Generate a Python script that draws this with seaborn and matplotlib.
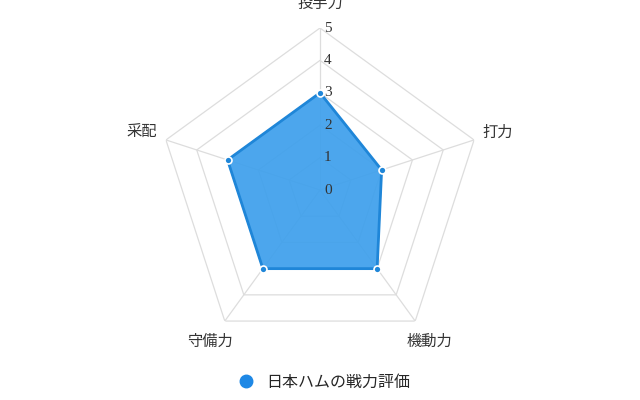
import numpy as np
import matplotlib
matplotlib.use("Agg")
import matplotlib.pyplot as plt
import seaborn as sns

# データ
categories = ["投手力", "打力", "機動力", "守備力", "采配"]
values = [3, 2, 3, 3, 3]
levels = [0, 1, 2, 3, 4, 5]
series_name = "日本ハムの戦力評価"

sns.set_theme(style="white")
plt.rcParams["font.family"] = ["Noto Sans CJK JP", "DejaVu Sans"]

fill_color = "#3d9fec"
line_color = "#1f86d8"
grid_color = "#dddddd"

n = len(categories)
angles = np.linspace(0, 2 * np.pi, n, endpoint=False)
closed = np.append(angles, angles[0])

fig = plt.figure(figsize=(6.4, 4.0), dpi=100)
R = 162  # outer radius in px
ax = fig.add_axes([(320 - R) / 640, (400 - 190 - R) / 400, 2 * R / 640, 2 * R / 400],
                  projection="polar")
ax.set_theta_offset(np.pi / 2)
ax.set_theta_direction(-1)
ax.set_ylim(0, max(levels))
ax.grid(False)
ax.spines["polar"].set_visible(False)
ax.set_xticks([])
ax.set_yticks([])
ax.set_facecolor("none")

# pentagon grid
for lv in levels[1:]:
    ax.plot(closed, [lv] * (n + 1), color=grid_color, lw=0.9, zorder=1)
for a in angles:
    ax.plot([a, a], [0, max(levels)], color=grid_color, lw=0.9, zorder=1)

# data
vals = values + values[:1]
ax.fill(closed, vals, color=fill_color, alpha=0.92, zorder=2)
ax.plot(closed, vals, color=line_color, lw=2, zorder=3)
ax.plot(angles, values, "o", ms=5, color=line_color, mec="white", mew=1.2, zorder=4)

# scale labels
for lv in levels:
    ax.annotate(str(lv), xy=(0, lv), xytext=(3, 0), textcoords="offset points",
                ha="left", va="center", fontsize=11, color="#333333",
                family=["Liberation Serif", "DejaVu Serif"], zorder=5)

# category labels
for a, c in zip(angles, categories):
    ax.text(a, 5.77, c, ha="center", va="center", fontsize=11, color="#333333",
            clip_on=False)

# legend
fig.legend(handles=[plt.Line2D([], [], marker="o", ls="", ms=9, color="#1e88e5")],
           labels=[series_name], loc="center", bbox_to_anchor=(0.5, 1 - 382 / 400),
           frameon=False, fontsize=11.5, handletextpad=0.3)

fig.savefig("out.png", dpi=100, facecolor="white")
